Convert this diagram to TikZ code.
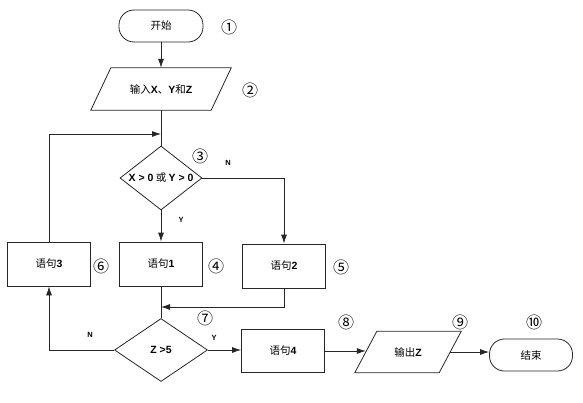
\documentclass[tikz,border=0pt]{standalone}
\usepackage{fontspec}
\setmainfont{Noto Sans CJK SC}
\newfontfamily\lat{Liberation Sans}
\usetikzlibrary{shapes.geometric,arrows.meta}
\newcommand\la[1]{{\lat\bfseries #1}}
\begin{document}
\begin{tikzpicture}[x=1pt,y=-1pt,
  every node/.style={font=\fontsize{10.5}{12}\selectfont},
  ln/.style={line width=0.8pt,draw=black!85},
  arr/.style={ln,-{Latex[length=9pt,width=6pt]}},
  term/.style={ln,draw,rounded corners=15pt,minimum width=84pt,minimum height=32pt,inner sep=0pt},
  box/.style={ln,draw,minimum width=83pt,minimum height=44pt,inner sep=0pt},
  para/.style={minimum height=42pt,inner sep=0pt},
  dia/.style={ln,draw,diamond,inner sep=0pt},
  num/.style={font=\fontsize{16}{18}\selectfont},
  yn/.style={font=\lat\bfseries\fontsize{7.5}{9}\selectfont}]
\useasboundingbox (0,0) rectangle (583,402);
\node[term] (start) at (161,26) {开始};
\node[para,minimum width=120pt] (in) at (161,89) {输入\la{X}、\la{Y}和\la{Z}};
\draw[ln] ([xshift=10pt]in.north west) -- ([xshift=10pt]in.north east) -- ([xshift=-10pt]in.south east) -- ([xshift=-10pt]in.south west) -- cycle;
\node[dia,minimum width=82pt,minimum height=64pt,aspect=1.3] (d1) at (161,178) {\la{X > 0} 或 \la{Y > 0}};
\node[box] (s3) at (49,264) {语句\la{3}};
\node[box] (s1) at (161,264) {语句\la{1}};
\node[box] (s2) at (284,266) {语句\la{2}};
\node[dia,minimum width=93pt,minimum height=63pt,aspect=1.5] (d2) at (161,350) {\la{Z >5}};
\node[box,minimum height=43pt] (s4) at (283,351) {语句\la{4}};
\node[para,minimum width=84pt,minimum height=41pt] (out) at (408,352) {输出\la{Z}};
\draw[ln] ([xshift=11pt]out.north west) -- ([xshift=11pt]out.north east) -- ([xshift=-11pt]out.south east) -- ([xshift=-11pt]out.south west) -- cycle;
\node[term,minimum width=83pt] (end) at (531,355) {结束};
\coordinate (j1) at (161,134);
\coordinate (j2) at (161,307);
\draw[arr] (start) -- (in);
\draw[ln] (in) -- (d1);
\draw[arr] (s3.north) |- (j1);
\draw[arr] (d1.east) -| (s2.north);
\draw[arr] (d1.south) -- (s1.north);
\draw[ln] (s1.south) -- (d2.north);
\draw[arr] (s2.south) |- (j2);
\draw[arr] (d2.west) -| (s3.south);
\draw[arr] (d2.east) -- (d2.east -| s4.west);
\draw[arr] (s4.east) -- (s4.east -| out.west);
\draw[arr] (out.east) -- (out.east -| end.west);
\node[yn] (n1) at (228,163) {N};
\node[yn] (y1) at (181,220) {Y};
\node[yn] (y2) at (214,338) {Y};
\node[yn] (n2) at (90,335) {N};
\node[num] (c1) at (229,27) {①};
\node[num] (c2) at (250,90) {②};
\node[num] (c3) at (200,156) {③};
\node[num] (c4) at (216,266) {④};
\node[num] (c5) at (341,267) {⑤};
\node[num] (c6) at (101,266) {⑥};
\node[num] (c7) at (205,318) {⑦};
\node[num] (c8) at (346,322) {⑧};
\node[num] (c9) at (460,322) {⑨};
\node[num] (c10) at (534,322) {⑩};
\end{tikzpicture}
\end{document}
